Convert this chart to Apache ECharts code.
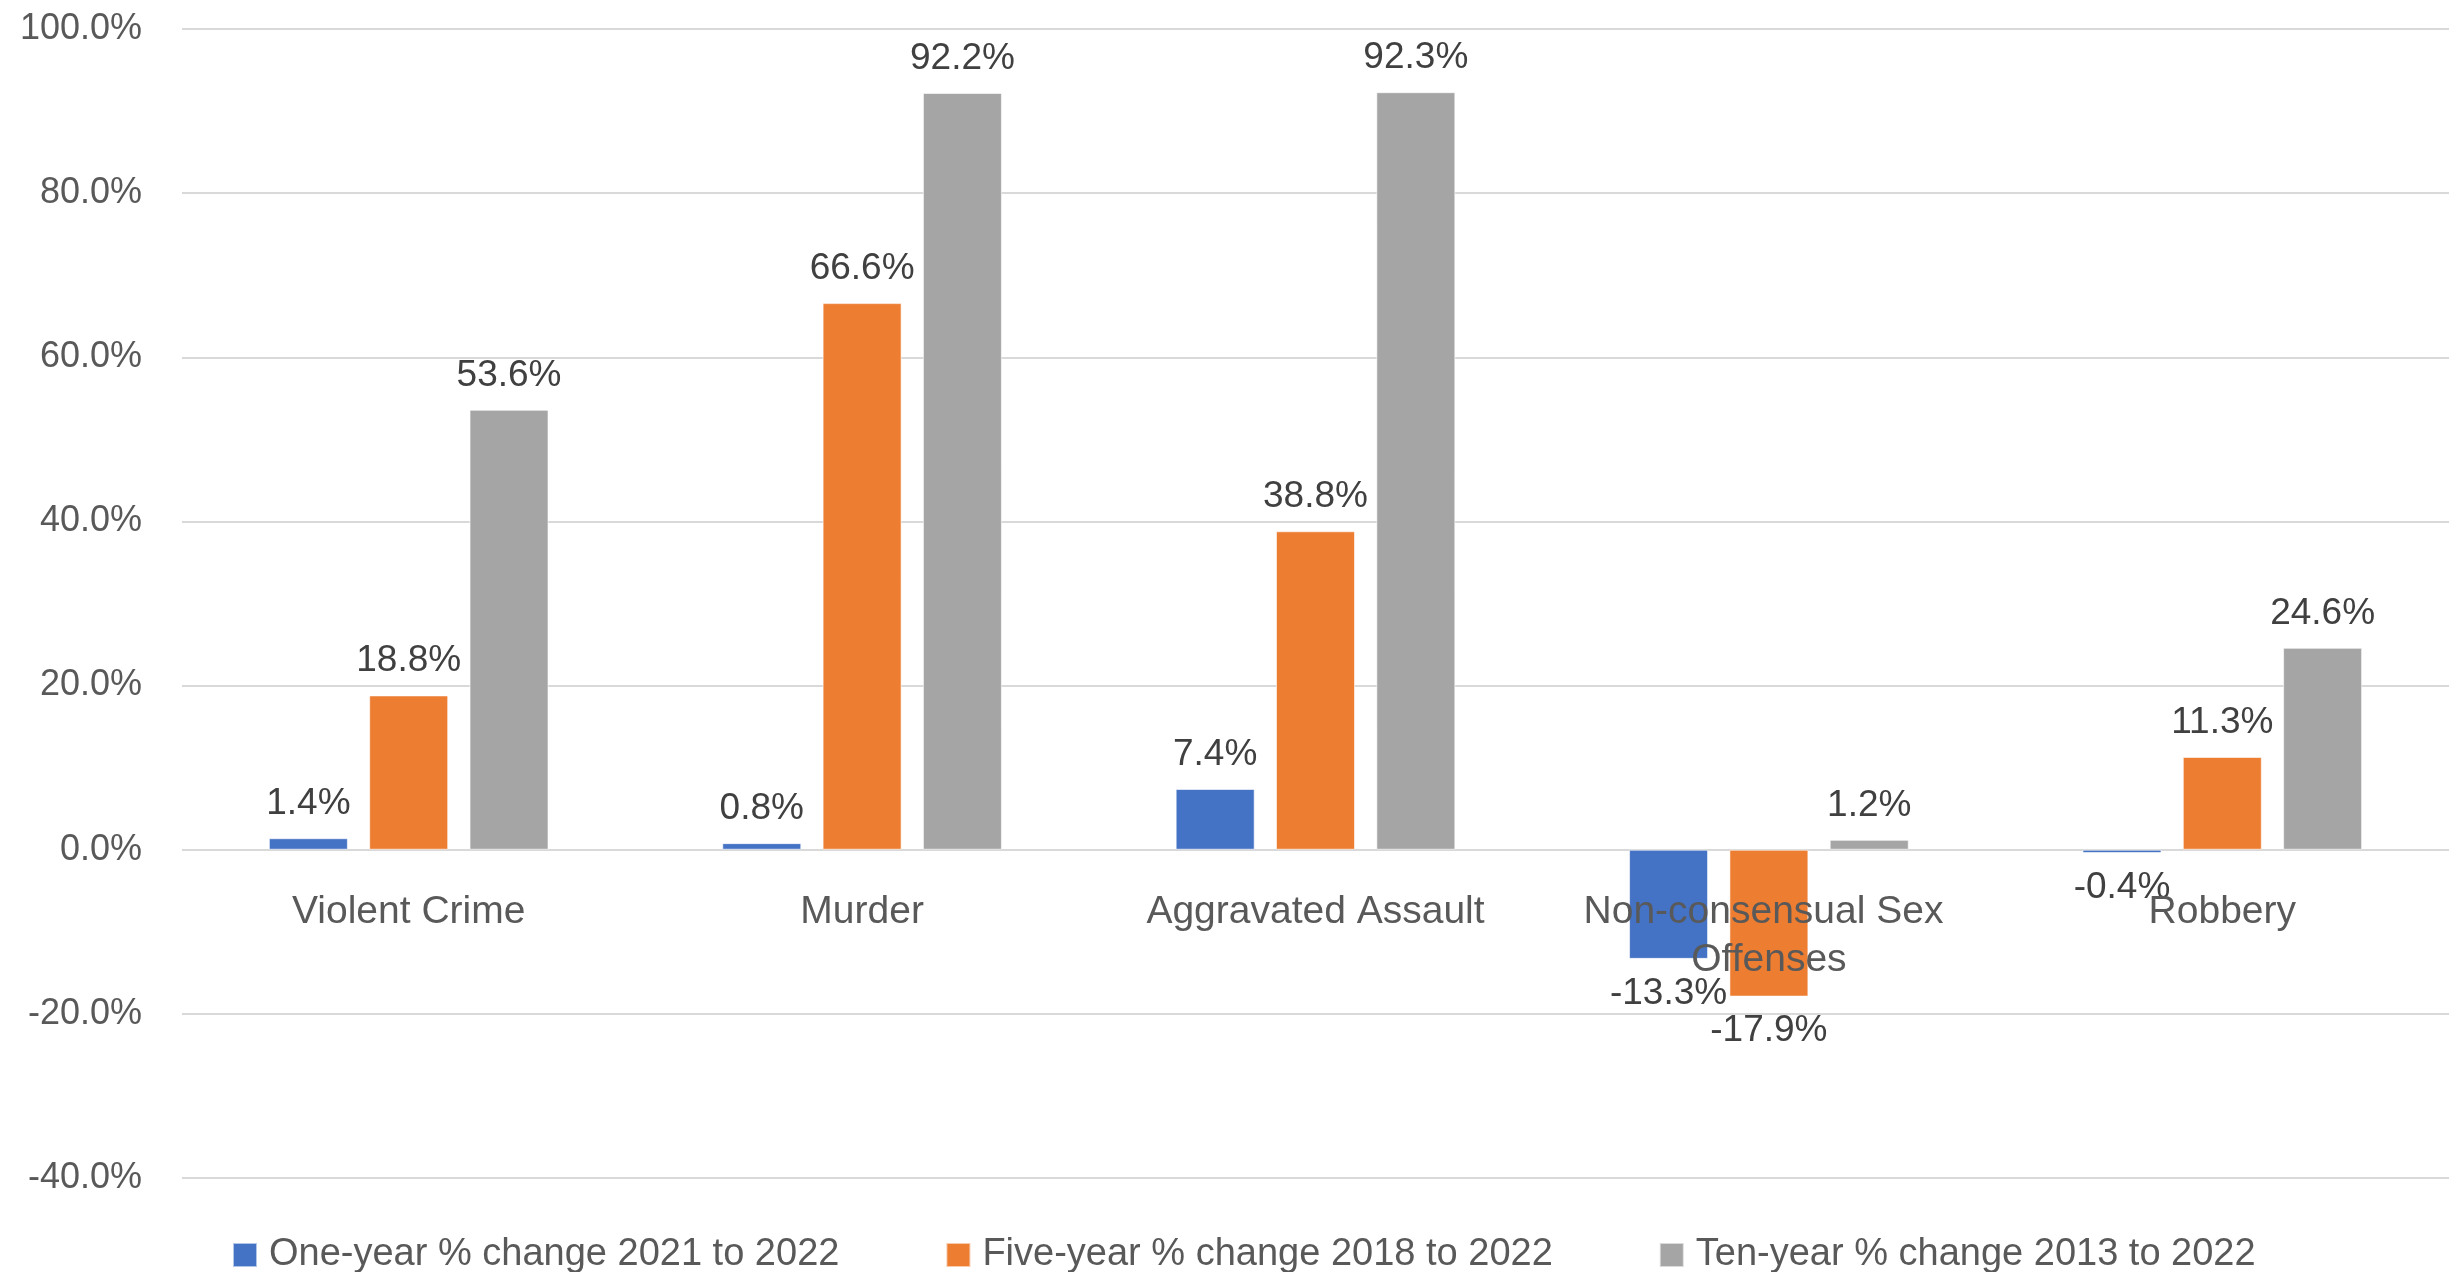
<!DOCTYPE html>
<html>
<head>
<meta charset="utf-8">
<script src="https://cdn.jsdelivr.net/npm/echarts@6/dist/echarts.min.js"></script>
<style>html,body{margin:0;padding:0;background:#fff}#c{width:2459px;height:1272px}</style>
</head>
<body>
<div id="c"></div>
<script>
const categories = ['Violent Crime', 'Murder', 'Aggravated Assault', 'Non-consensual Sex Offenses', 'Robbery'];
const seriesNames = ['One-year % change 2021 to 2022', 'Five-year % change 2018 to 2022', 'Ten-year % change 2013 to 2022'];
const oneYear = [1.4, 0.8, 7.4, -13.3, -0.4];
const fiveYear = [18.8, 66.6, 38.8, -17.9, 11.3];
const tenYear = [53.6, 92.2, 92.3, 1.2, 24.6];
const yMin = -40, yMax = 100, yStep = 20;
const colors = ['#4472C4', '#ED7D31', '#A5A5A5'];

const FONT = 'Liberation Sans';
function mk(name, vals, color) {
  return {
    name: name,
    type: 'bar',
    barWidth: 79,
    barGap: '27%',
    itemStyle: { color: color, borderColor: 'rgba(255,255,255,0.6)', borderWidth: 1 },
    data: vals.map(v => ({ value: v, label: { position: v < 0 ? 'bottom' : 'top' } })),
    label: {
      show: true,
      distance: 16,
      formatter: p => p.value.toFixed(1) + '%',
      fontFamily: FONT, fontSize: 37, color: '#404040'
    }
  };
}
const chart = echarts.init(document.getElementById('c'));
chart.setOption({
  animation: false,
  color: colors,
  grid: { left: 182, right: 10, top: 29, bottom: 94, containLabel: false, outerBoundsMode: 'none' },
  legend: {
    left: 227, top: 1231,
    itemWidth: 24, itemHeight: 24, itemGap: 106,
    icon: 'rect',
    textStyle: { fontFamily: FONT, fontSize: 38, color: '#595959', padding: [0, 0, 0, 7] },
    data: seriesNames
  },
  xAxis: {
    type: 'category',
    data: categories,
    z: 10,
    offset: 0,
    axisLine: { show: false, onZero: false },
    axisTick: { show: false },
    axisLabel: {
      margin: 39, fontFamily: FONT, fontSize: 39, color: '#595959',
      width: 440, overflow: 'break', lineHeight: 48, interval: 0
    }
  },
  yAxis: {
    type: 'value',
    min: yMin, max: yMax, interval: yStep,
    axisLine: { show: false },
    axisTick: { show: false },
    splitLine: { lineStyle: { color: '#D9D9D9', width: 2 } },
    axisLabel: {
      margin: 40, fontFamily: FONT, fontSize: 36, color: '#595959',
      formatter: v => v.toFixed(1) + '%'
    }
  },
  series: [mk(seriesNames[0], oneYear, colors[0]), mk(seriesNames[1], fiveYear, colors[1]), mk(seriesNames[2], tenYear, colors[2])]
});
// place the category axis on the zero line (as in the original)
const yZero = chart.convertToPixel({ yAxisIndex: 0 }, 0);
const yBottom = chart.convertToPixel({ yAxisIndex: 0 }, yMin);
chart.setOption({ xAxis: { offset: -(yBottom - yZero) } });
</script>
</body>
</html>
